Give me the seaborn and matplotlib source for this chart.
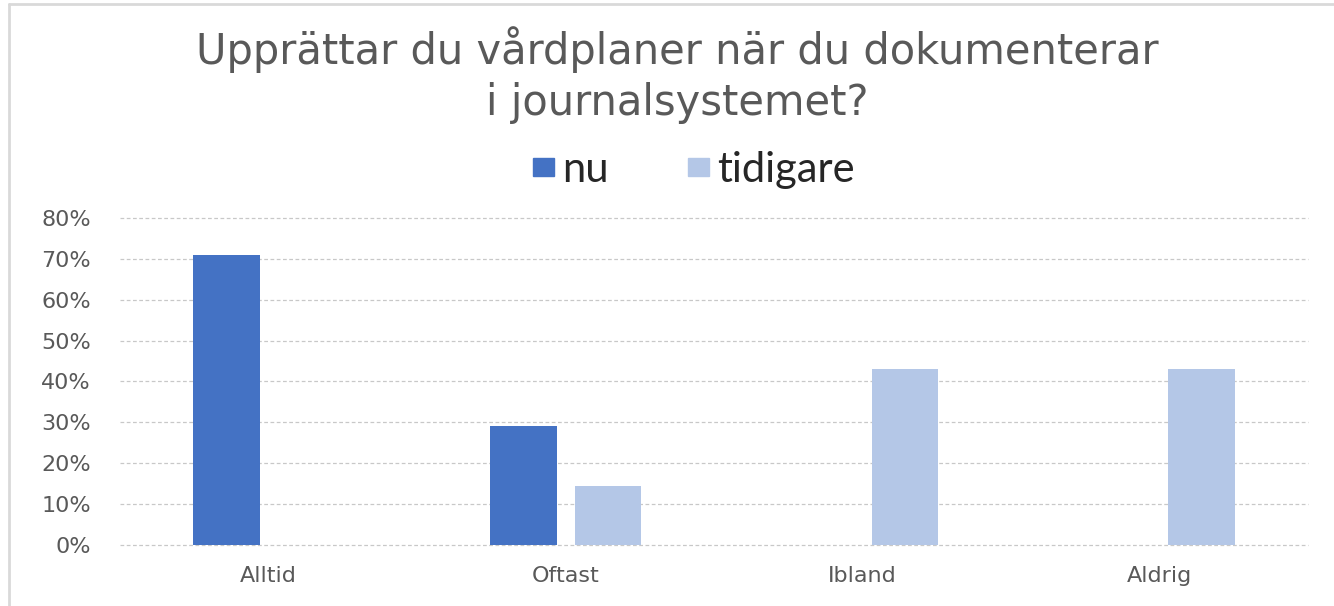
import pandas as pd
import numpy as np
import matplotlib.pyplot as plt
import seaborn as sns
from matplotlib.patches import Rectangle
from matplotlib.lines import Line2D

# Data
categories = ['Alltid', 'Oftast', 'Ibland', 'Aldrig']
nu = [0.71, 0.29, 0.0, 0.0]
tidigare = [0.0, 0.145, 0.43, 0.43]
series = ['nu', 'tidigare']
colors = ['#4472C4', '#B4C7E7']
yticks = [0, 0.1, 0.2, 0.3, 0.4, 0.5, 0.6, 0.7, 0.8]

df = pd.DataFrame({
    'kategori': categories * 2,
    'andel': nu + tidigare,
    'serie': ['nu'] * len(categories) + ['tidigare'] * len(categories),
})

sns.set_style('white')
plt.rcParams['font.family'] = ['DejaVu Sans']

fig = plt.figure(figsize=(13.34, 6.06), dpi=100)
ax = fig.add_axes([0.09, 0.1007, 0.8905, 0.5396])

sns.barplot(data=df, x='kategori', y='andel', hue='serie', hue_order=series,
            palette=colors, width=0.566, gap=0.214, ax=ax, legend=False,
            saturation=1, edgecolor='none')

ax.set_ylim(0, 0.8)
ax.set_xlim(-0.5, len(categories) - 0.5)
ax.set_yticks(yticks)
ax.set_yticklabels([f'{int(round(t * 100))}%' for t in yticks])
ax.yaxis.grid(True, color='#c8c8c8', linestyle=(0, (3, 2)), linewidth=0.9)
ax.set_axisbelow(True)
for s in ax.spines.values():
    s.set_visible(False)
ax.tick_params(axis='both', length=0, labelsize=16, colors='#595959')
ax.tick_params(axis='x', pad=15)
ax.tick_params(axis='y', pad=21)
ax.set_xlabel('')
ax.set_ylabel('')

# Title
fig.text(0.508, 0.876, 'Upprättar du vårdplaner när du dokumenterar\ni journalsystemet?',
         ha='center', va='center', fontsize=30, color='#595959',
         linespacing=1.25)

# Legend
handles = [Rectangle((0, 0), 1, 1, color=c) for c in colors]
fig.legend(handles, series, loc='center', bbox_to_anchor=(0.52, 0.719),
           ncol=2, frameon=False, handlelength=0.5,
           handleheight=0.3, handletextpad=0.2, columnspacing=1.9,
           prop={'family': ['Lato', 'DejaVu Sans'], 'size': 30})

# Chart frame: only left and top edges visible
fig.add_artist(Line2D([0.007, 0.007], [0.0, 0.994], transform=fig.transFigure,
                      color='#d9d9d9', linewidth=2))
fig.add_artist(Line2D([0.007, 1.0], [0.994, 0.994], transform=fig.transFigure,
                      color='#d9d9d9', linewidth=2))

fig.canvas.draw()
for gl in ax.get_ygridlines():
    gl.set_clip_on(False)

plt.savefig('out.png', dpi=100)
